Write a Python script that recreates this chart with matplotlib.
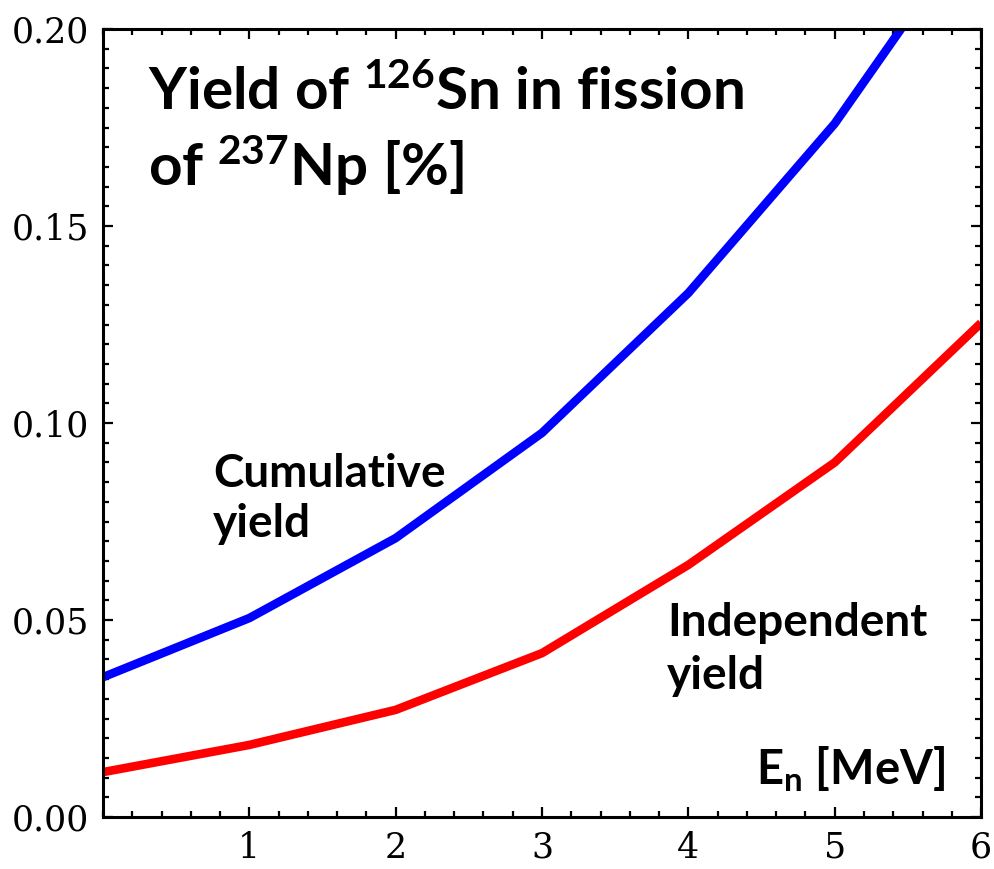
import matplotlib.pyplot as plt
from matplotlib.ticker import MultipleLocator

plt.rcParams['mathtext.fontset'] = 'custom'
plt.rcParams['mathtext.rm'] = 'Lato:bold'
plt.rcParams['mathtext.default'] = 'rm'

# Dados (energia do nêutron em MeV, rendimento em %)
energia = [0, 1, 2, 3, 4, 5, 6]
cumulativo = [0.0355, 0.0505, 0.0708, 0.0975, 0.1330, 0.1760, 0.2290]
independente = [0.0114, 0.0183, 0.0272, 0.0416, 0.0640, 0.0900, 0.1254]

fig = plt.figure(figsize=(9.95, 8.69), dpi=100)
ax = fig.add_axes([0.1035, 0.0598, 0.8825, 0.9068])

ax.plot(energia, cumulativo, color='#0000ff', lw=6.2, solid_capstyle='butt')
ax.plot(energia, independente, color='#ff0000', lw=6.2, solid_capstyle='butt')

ax.set_xlim(0, 6)
ax.set_ylim(0, 0.2)
ax.set_xticks([1, 2, 3, 4, 5, 6])
ax.set_yticks([0, 0.05, 0.10, 0.15, 0.20])
ax.set_yticklabels(['0.00', '0.05', '0.10', '0.15', '0.20'])
ax.xaxis.set_minor_locator(MultipleLocator(0.2))
ax.yaxis.set_minor_locator(MultipleLocator(0.005))
ax.tick_params(which='both', direction='in', top=True, right=True, width=1.6)
ax.tick_params(which='major', length=7, labelsize=25, pad=10)
ax.tick_params(which='minor', length=4)
for lab in ax.get_xticklabels() + ax.get_yticklabels():
    lab.set_family('DejaVu Serif')
for s in ax.spines.values():
    s.set_linewidth(2.2)

fonte = dict(family='Lato', weight='bold', color='black')
t = fig.transFigure
ax.text(148 / 995, 1 - 110 / 869, r'Yield of $^{126}$Sn in fission', transform=t, fontsize=42, **fonte)
ax.text(148 / 995, 1 - 186 / 869, r'of $^{237}$Np [%]', transform=t, fontsize=42, **fonte)

ax.text(213 / 995, 1 - 487 / 869, 'Cumulative', transform=t, fontsize=33, **fonte)
ax.text(213 / 995, 1 - 537 / 869, 'yield', transform=t, fontsize=33, **fonte)
ax.text(667 / 995, 1 - 636 / 869, 'Independent', transform=t, fontsize=33, **fonte)
ax.text(667 / 995, 1 - 689 / 869, 'yield', transform=t, fontsize=33, **fonte)
ax.text(945 / 995, 1 - 784 / 869, r'E$_{n}$ [MeV]', transform=t, fontsize=34, ha='right', **fonte)

fig.savefig('out.png', dpi=100)
